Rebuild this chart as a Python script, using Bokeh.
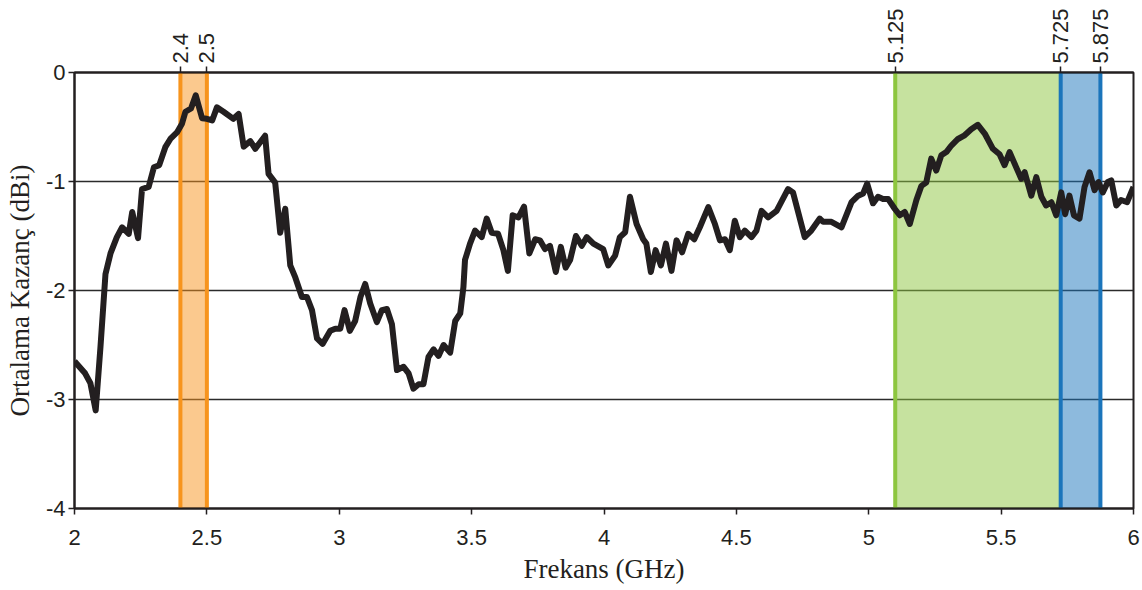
from bokeh.plotting import figure
from bokeh.models import FixedTicker, LinearAxis, Range1d
from bokeh.embed import file_html
from bokeh.resources import INLINE

# ---- data ----
freq = [2.00, 2.04, 2.06, 2.08, 2.098, 2.117, 2.136, 2.16, 2.18, 2.205, 2.218, 2.24,
        2.255, 2.28, 2.30, 2.32, 2.343, 2.362, 2.387, 2.406, 2.419, 2.44, 2.458, 2.482,
        2.50, 2.52, 2.538, 2.563, 2.60, 2.62, 2.639, 2.664, 2.683, 2.72, 2.733, 2.758,
        2.777, 2.796, 2.815, 2.834, 2.859, 2.878, 2.897, 2.916, 2.937, 2.966, 2.985, 3.004,
        3.02, 3.04, 3.06, 3.08, 3.098, 3.117, 3.142, 3.161, 3.18, 3.199, 3.218, 3.243,
        3.262, 3.28, 3.30, 3.318, 3.337, 3.356, 3.375, 3.394, 3.419, 3.438, 3.457, 3.469,
        3.475, 3.494, 3.513, 3.538, 3.557, 3.576, 3.60, 3.62, 3.637, 3.655, 3.677, 3.698,
        3.718, 3.74, 3.758, 3.777, 3.796, 3.818, 3.837, 3.855, 3.872, 3.894, 3.916, 3.935,
        3.96, 3.997, 4.016, 4.042, 4.06, 4.08, 4.098, 4.123, 4.148, 4.16, 4.177, 4.195,
        4.215, 4.234, 4.255, 4.274, 4.295, 4.318, 4.341, 4.362, 4.394, 4.419, 4.438, 4.457,
        4.475, 4.494, 4.513, 4.532, 4.557, 4.576, 4.595, 4.62, 4.652, 4.695, 4.714, 4.758,
        4.783, 4.815, 4.828, 4.859, 4.897, 4.935, 4.96, 4.979, 4.994, 5.016, 5.035, 5.054,
        5.073, 5.098, 5.117, 5.136, 5.155, 5.18, 5.199, 5.217, 5.236, 5.255, 5.274, 5.293,
        5.312, 5.337, 5.36, 5.387, 5.412, 5.438, 5.469, 5.494, 5.513, 5.532, 5.557, 5.576,
        5.589, 5.614, 5.633, 5.652, 5.67, 5.69, 5.708, 5.727, 5.742, 5.758, 5.775, 5.796,
        5.815, 5.834, 5.853, 5.868, 5.884, 5.903, 5.916, 5.935, 5.953, 5.976, 6.00]
gain = [-2.65, -2.76, -2.85, -3.10, -2.52, -1.85, -1.66, -1.51, -1.42, -1.48, -1.28, -1.52,
        -1.07, -1.05, -0.87, -0.85, -0.685, -0.61, -0.55, -0.47, -0.36, -0.33, -0.21, -0.42,
        -0.425, -0.44, -0.32, -0.36, -0.425, -0.38, -0.68, -0.63, -0.70, -0.58, -0.93, -1.01,
        -1.47, -1.25, -1.77, -1.88, -2.06, -2.06, -2.18, -2.44, -2.49, -2.37, -2.35, -2.35,
        -2.18, -2.37, -2.28, -2.06, -1.94, -2.12, -2.29, -2.18, -2.17, -2.31, -2.73, -2.70,
        -2.76, -2.90, -2.86, -2.86, -2.61, -2.54, -2.60, -2.50, -2.57, -2.28, -2.21, -1.97,
        -1.72, -1.57, -1.45, -1.51, -1.34, -1.47, -1.48, -1.63, -1.82, -1.31, -1.33, -1.23,
        -1.66, -1.53, -1.54, -1.62, -1.59, -1.83, -1.60, -1.79, -1.72, -1.50, -1.59, -1.51,
        -1.57, -1.62, -1.77, -1.68, -1.51, -1.465, -1.14, -1.39, -1.53, -1.57, -1.83, -1.63,
        -1.77, -1.57, -1.82, -1.54, -1.65, -1.48, -1.53, -1.42, -1.235, -1.39, -1.54, -1.53,
        -1.63, -1.36, -1.51, -1.45, -1.51, -1.45, -1.27, -1.33, -1.27, -1.07, -1.10, -1.51,
        -1.45, -1.34, -1.37, -1.37, -1.42, -1.19, -1.13, -1.11, -1.02, -1.20, -1.14, -1.16,
        -1.16, -1.25, -1.31, -1.28, -1.39, -1.17, -1.04, -1.01, -0.79, -0.90, -0.76, -0.73,
        -0.67, -0.61, -0.58, -0.52, -0.48, -0.56, -0.70, -0.75, -0.85, -0.73, -0.87, -0.975,
        -0.915, -1.13, -0.96, -1.14, -1.22, -1.19, -1.31, -1.10, -1.30, -1.13, -1.31, -1.34,
        -1.05, -0.915, -1.08, -1.005, -1.10, -1.005, -0.99, -1.22, -1.17, -1.19, -1.05]

band_left = [2.4, 5.1, 5.725]
band_right = [2.5, 5.725, 5.875]
band_colors = ["#F7941D", "#8DC63F", "#1B75BB"]

edge_x = [2.4, 2.5, 5.1, 5.725, 5.875]
edge_colors = ["#F7941D", "#F7941D", "#8DC63F", "#1B75BB", "#1B75BB"]

top_ticks = [2.4, 2.5, 5.1, 5.725, 5.875]
top_labels = ["2.4", "2.5", "5.125", "5.725", "5.875"]

x_ticks = [2, 2.5, 3, 3.5, 4, 4.5, 5, 5.5, 6]
x_labels = ["2", "2.5", "3", "3.5", "4", "4.5", "5", "5.5", "6"]
y_ticks = [0, -1, -2, -3, -4]
y_labels = ["0", "-1", "-2", "-3", "-4"]

INK = "#231F20"

p = figure(width=1142, height=590, x_range=Range1d(2, 6), y_range=Range1d(-4, 0),
           output_backend="svg", toolbar_location=None,
           min_border_left=74, min_border_right=9, min_border_top=72, min_border_bottom=82,
           x_axis_label="Frekans (GHz)", y_axis_label="Ortalama Kazanç (dBi)")
p.background_fill_color = "white"
p.border_fill_color = "white"
p.outline_line_color = INK
p.outline_line_width = 2

# bands
p.quad(left=band_left, right=band_right, bottom=-4, top=0,
       fill_color=band_colors, fill_alpha=0.5, line_color=None)
p.segment(x0=edge_x, y0=-4, x1=edge_x, y1=0, line_color=edge_colors, line_width=4)

# curve
p.line(freq, gain, line_color=INK, line_width=6, line_join="round")

# grid
p.xgrid.visible = False
p.ygrid.ticker = FixedTicker(ticks=[-1, -2, -3])
p.ygrid.grid_line_color = "#2b2b2b"
p.ygrid.grid_line_width = 1.5

def style_axis(ax):
    ax.axis_line_color = INK
    ax.axis_line_width = 2
    ax.major_tick_line_color = INK
    ax.major_tick_line_width = 1.5
    ax.major_tick_out = 6
    ax.major_tick_in = 0
    ax.minor_tick_line_color = None
    ax.major_label_text_font = "Liberation Sans"
    ax.major_label_text_font_size = "22px"
    ax.major_label_text_color = INK
    ax.axis_label_text_font = "Liberation Serif"
    ax.axis_label_text_font_size = "27px"
    ax.axis_label_text_font_style = "normal"
    ax.axis_label_text_color = INK

xa = p.xaxis[0]
xa.ticker = FixedTicker(ticks=x_ticks)
xa.major_label_overrides = {t: l for t, l in zip(x_ticks, x_labels)}
style_axis(xa)
xa.major_label_standoff = 15
xa.axis_label_standoff = 6

ya = p.yaxis[0]
ya.ticker = FixedTicker(ticks=y_ticks)
ya.major_label_overrides = {t: l for t, l in zip(y_ticks, y_labels)}
style_axis(ya)
ya.major_label_standoff = 3
ya.axis_label_standoff = 8

top = LinearAxis(ticker=FixedTicker(ticks=top_ticks),
                 major_label_overrides={t: l for t, l in zip(top_ticks, top_labels)},
                 major_label_orientation="vertical")
style_axis(top)
top.major_label_standoff = 3
p.add_layout(top, "above")

open("out.html", "w").write(file_html(p, INLINE))
